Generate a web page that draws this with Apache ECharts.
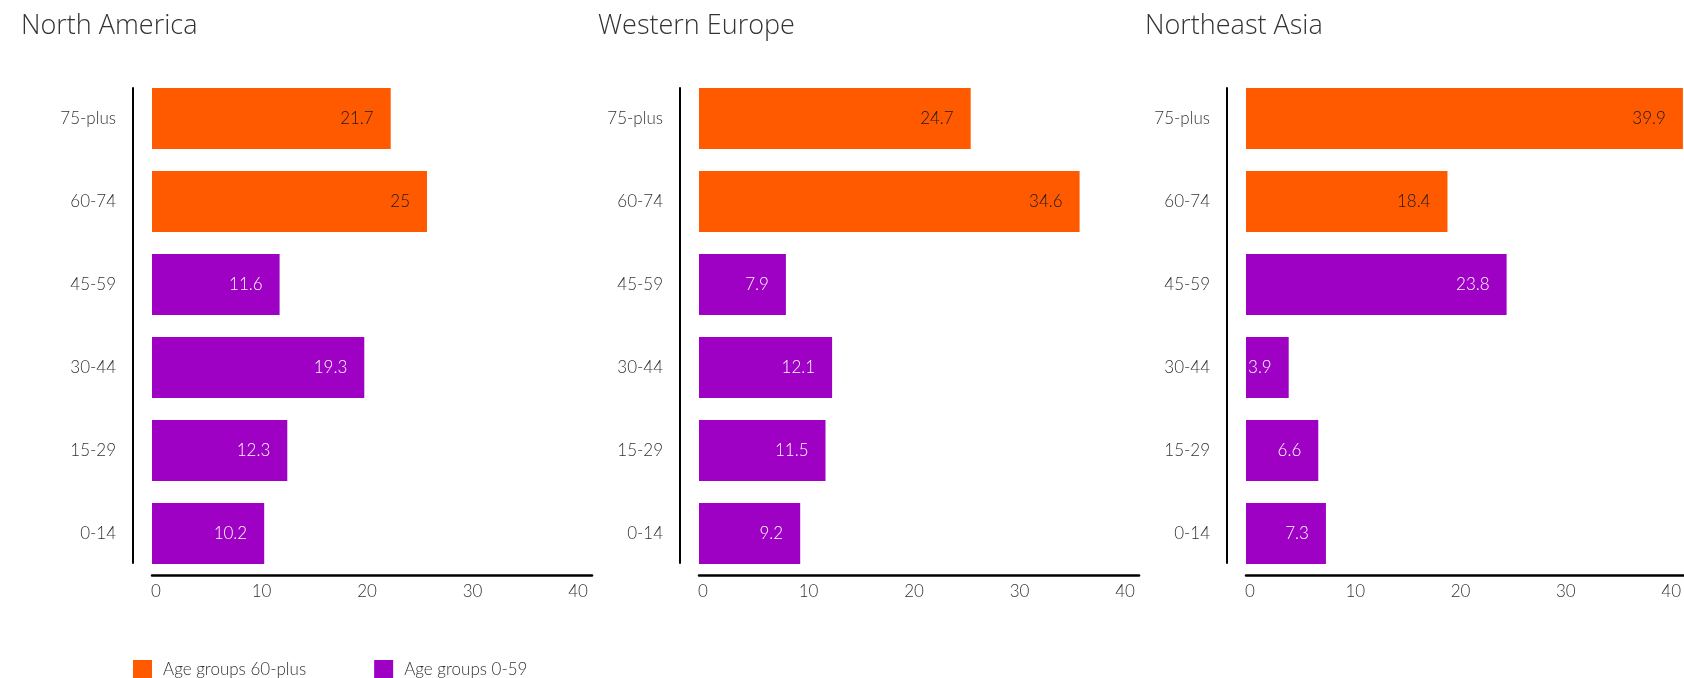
<!DOCTYPE html>
<html>
<head>
<meta charset="utf-8">
<script src="https://cdn.jsdelivr.net/npm/echarts/dist/echarts.min.js"></script>
<style>
html,body{margin:0;padding:0;background:#fff;}
#chart{width:1684px;height:678px;}
</style>
</head>
<body>
<div id="chart"></div>
<script>
// ---- data ----
const categories = ['75-plus', '60-74', '45-59', '30-44', '15-29', '0-14'];
const regionNames = ['North America', 'Western Europe', 'Northeast Asia'];
const northAmerica = [21.7, 25, 11.6, 19.3, 12.3, 10.2];
const westernEurope = [24.7, 34.6, 7.9, 12.1, 11.5, 9.2];
const northeastAsia = [39.9, 18.4, 23.8, 3.9, 6.6, 7.3];
const olderGroups = ['75-plus', '60-74'];
const seriesNames = ['Age groups 60-plus', 'Age groups 0-59'];
const axisMin = 0, axisMax = 40, axisInterval = 10;

// ---- styling ----
const ORANGE = '#ff5a00';
const PURPLE = '#9e00c4';
const smallFont = 'Lato, "Noto Sans", sans-serif';
const smallWeight = 300;
const titleFont = '"Open Sans", "Noto Sans", sans-serif';
const panelValues = [northAmerica, westernEurope, northeastAsia];
const panelStep = 547;

const grids = [], xAxes = [], yAxes = [], series = [], titles = [];
const titleLefts = [21, 598, 1145];

panelValues.forEach((vals, i) => {
  const dx = panelStep * i;
  const g = grids.length;
  // bars grid
  grids.push({left: 152 + dx, top: 77, width: 440, height: 498});
  // tick-label grid
  grids.push({left: 156 + dx, top: 77, width: 422, height: 498});
  // vertical axis line grid
  grids.push({left: 133 + dx, top: 88, width: 10, height: 475});

  xAxes.push({gridIndex: g, type: 'value', min: axisMin, max: axisMax, interval: axisInterval,
    axisLine: {show: true, onZero: false, lineStyle: {color: '#000', width: 2.5}},
    axisTick: {show: false}, axisLabel: {show: false}, splitLine: {show: false}});
  xAxes.push({gridIndex: g + 1, type: 'value', min: axisMin, max: axisMax, interval: axisInterval,
    axisLine: {show: false}, axisTick: {show: false}, splitLine: {show: false},
    axisLabel: {show: true, fontSize: 17, color: '#333', margin: 8, fontFamily: smallFont, fontWeight: smallWeight}});
  xAxes.push({gridIndex: g + 2, type: 'value', show: false, min: 0, max: 1});

  yAxes.push({gridIndex: g, type: 'category', data: categories, inverse: true,
    axisLine: {show: false}, axisTick: {show: false}, splitLine: {show: false},
    axisLabel: {margin: 36, fontSize: 17, color: '#333', fontFamily: smallFont, fontWeight: smallWeight}});
  yAxes.push({gridIndex: g + 1, type: 'category', data: categories, show: false});
  yAxes.push({gridIndex: g + 2, type: 'value', min: 0, max: 1,
    axisLine: {show: true, onZero: false, lineStyle: {color: '#000', width: 2}},
    axisTick: {show: false}, axisLabel: {show: false}, splitLine: {show: false}});

  const older = vals.map((v, j) => olderGroups.includes(categories[j]) ? v : '-');
  const younger = vals.map((v, j) => olderGroups.includes(categories[j]) ? '-' : v);
  series.push({
    name: seriesNames[0], type: 'bar', xAxisIndex: g, yAxisIndex: g, stack: 'p' + i,
    data: older, barWidth: 61, itemStyle: {color: ORANGE},
    label: {show: true, position: 'insideRight', distance: 17, color: '#1a1a1a',
      fontSize: 17, fontFamily: smallFont, fontWeight: smallWeight}
  });
  series.push({
    name: seriesNames[1], type: 'bar', xAxisIndex: g, yAxisIndex: g, stack: 'p' + i,
    data: younger, barWidth: 61, itemStyle: {color: PURPLE},
    label: {show: true, position: 'insideRight', distance: 17, color: '#ffffff',
      fontSize: 17, fontFamily: smallFont, fontWeight: smallWeight}
  });

  titles.push({text: regionNames[i], left: titleLefts[i], top: 13, padding: 0,
    textStyle: {fontSize: 27, fontWeight: 300, color: '#333', fontFamily: titleFont}});
});

const chart = echarts.init(document.getElementById('chart'), null, {renderer: 'canvas'});
chart.setOption({
  animation: false,
  backgroundColor: '#fff',
  title: titles,
  grid: grids,
  xAxis: xAxes,
  yAxis: yAxes,
  legend: {
    data: seriesNames, left: 133, top: 660, padding: 0,
    icon: 'rect', itemWidth: 19, itemHeight: 19, itemGap: 68,
    selectedMode: false,
    textStyle: {fontSize: 17, color: '#333', fontFamily: smallFont, fontWeight: smallWeight, padding: [0, 0, 0, 6]}
  },
  series: series
});
</script>
</body>
</html>
